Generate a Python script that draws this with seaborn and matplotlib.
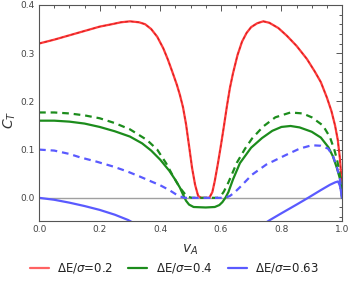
import numpy as np
import pandas as pd
import seaborn as sns
import matplotlib.pyplot as plt
from matplotlib.lines import Line2D
from matplotlib import ticker

# ΔE/σ = 0.2 (solid and dashed almost coincide)
red_v = [0.0, 0.05, 0.10, 0.15, 0.20, 0.24, 0.27, 0.30, 0.33, 0.35, 0.37, 0.39, 0.41,
         0.425, 0.44, 0.455, 0.465, 0.475, 0.485, 0.495, 0.505, 0.515, 0.525, 0.535,
         0.55, 0.562, 0.572, 0.58, 0.59, 0.60, 0.61, 0.62, 0.63, 0.64, 0.655, 0.67,
         0.685, 0.70, 0.72, 0.74, 0.76, 0.79, 0.818, 0.85, 0.884, 0.91, 0.93, 0.95,
         0.965, 0.977, 0.986, 0.993, 0.998, 1.0]
red_c = [0.320, 0.328, 0.337, 0.346, 0.355, 0.360, 0.364, 0.366, 0.364, 0.360, 0.350, 0.334, 0.310,
         0.287, 0.261, 0.234, 0.213, 0.188, 0.153, 0.108, 0.062, 0.027, 0.004, 0.0,
         0.0, 0.0, 0.012, 0.035, 0.070, 0.108, 0.148, 0.190, 0.228, 0.258, 0.296, 0.324,
         0.342, 0.354, 0.362, 0.366, 0.363, 0.352, 0.336, 0.315, 0.288, 0.262, 0.240, 0.208,
         0.180, 0.150, 0.120, 0.082, 0.040, 0.0]

# ΔE/σ = 0.4
grn_v = [0.0, 0.05, 0.10, 0.15, 0.20, 0.25, 0.30, 0.34, 0.37, 0.40, 0.43, 0.45, 0.465,
         0.475, 0.485, 0.495, 0.51, 0.55, 0.58, 0.595, 0.605, 0.615, 0.625, 0.64, 0.663,
         0.70, 0.736, 0.77, 0.80, 0.83, 0.86, 0.90, 0.93, 0.955, 0.97, 0.983, 0.993,
         0.998, 1.0]
grn_c = [0.160, 0.160, 0.158, 0.154, 0.147, 0.138, 0.127, 0.113, 0.098, 0.079, 0.056, 0.037, 0.021,
         0.007, -0.006, -0.014, -0.019, -0.020, -0.019, -0.015, -0.009, 0.000, 0.012, 0.038, 0.072,
         0.104, 0.124, 0.139, 0.147, 0.149, 0.146, 0.137, 0.125, 0.105, 0.086, 0.062, 0.040,
         0.020, 0.0]
grn_dash_v = [0.0, 0.05, 0.10, 0.15, 0.20, 0.25, 0.30, 0.356, 0.39, 0.42, 0.443, 0.465, 0.48,
              0.492, 0.505, 0.59, 0.60, 0.61, 0.625, 0.64, 0.653, 0.68, 0.703, 0.74, 0.78,
              0.83, 0.87, 0.90, 0.937, 0.96, 0.975, 0.985, 0.995, 1.0]
grn_dash_c = [0.177, 0.177, 0.175, 0.171, 0.165, 0.155, 0.142, 0.120, 0.100, 0.071, 0.044, 0.021, 0.009,
              0.002, 0.0, 0.0, 0.004, 0.013, 0.032, 0.054, 0.073, 0.102, 0.123, 0.148, 0.167,
              0.177, 0.175, 0.167, 0.150, 0.126, 0.099, 0.075, 0.040, 0.0]

# ΔE/σ = 0.63
blu_dash_v = [0.0, 0.05, 0.10, 0.135, 0.19, 0.244, 0.29, 0.333, 0.37, 0.40, 0.43, 0.45, 0.465,
              0.48, 0.615, 0.63, 0.645, 0.663, 0.703, 0.75, 0.812, 0.86, 0.90, 0.93, 0.954,
              0.97, 0.983, 0.993, 1.0]
blu_dash_c = [0.100, 0.098, 0.091, 0.084, 0.075, 0.065, 0.055, 0.044, 0.034, 0.026, 0.016, 0.008, 0.003,
              0.0, 0.0, 0.004, 0.011, 0.022, 0.048, 0.069, 0.088, 0.102, 0.109, 0.108, 0.102,
              0.087, 0.064, 0.040, 0.0]
blu_v1 = [0.0, 0.05, 0.10, 0.15, 0.20, 0.25, 0.294, 0.32]
blu_c1 = [0.0, -0.004, -0.010, -0.017, -0.025, -0.035, -0.046, -0.055]
blu_v2 = [0.74, 0.762, 0.80, 0.85, 0.888, 0.93, 0.96, 0.977, 0.987, 0.993, 0.997, 1.0]
blu_c2 = [-0.055, -0.046, -0.032, -0.014, 0.0, 0.016, 0.027, 0.032, 0.034, 0.025, 0.012, 0.0]

labels = ['ΔE/$\\sigma$=0.2', 'ΔE/$\\sigma$=0.4', 'ΔE/$\\sigma$=0.63']

sns.set_style('white')
plt.rcParams['font.family'] = ['DejaVu Sans']
plt.rcParams['mathtext.fontset'] = 'dejavusans'

fig = plt.figure(figsize=(3.49, 2.9), dpi=100)
ax = fig.add_axes([0.112, 0.238, 0.868, 0.745])

ax.axhline(0, color='#a0a0a0', lw=1.0, zorder=1)

red = '#ff3b3b'
green = '#1c8c1c'
blue = '#5a5aff'

sns.lineplot(x=red_v, y=red_c, ax=ax, color=red, lw=1.6, sort=False)
sns.lineplot(x=red_v, y=red_c, ax=ax, color='#d62020', lw=0.8, sort=False,
             linestyle=(0, (2.5, 2.5)))
sns.lineplot(x=grn_v, y=grn_c, ax=ax, color=green, lw=1.6, sort=False)
sns.lineplot(x=grn_dash_v, y=grn_dash_c, ax=ax, color=green, lw=1.6, sort=False,
             linestyle=(0, (3, 2.2)))
sns.lineplot(x=blu_dash_v, y=blu_dash_c, ax=ax, color=blue, lw=1.6, sort=False,
             linestyle=(0, (3, 2.2)))
sns.lineplot(x=blu_v1, y=blu_c1, ax=ax, color=blue, lw=1.6, sort=False)
sns.lineplot(x=blu_v2, y=blu_c2, ax=ax, color=blue, lw=1.6, sort=False)

ax.set_xlim(0, 1.0)
ax.set_ylim(-0.048, 0.4)
ax.xaxis.set_major_locator(ticker.MultipleLocator(0.2))
ax.xaxis.set_minor_locator(ticker.MultipleLocator(0.05))
ax.yaxis.set_major_locator(ticker.MultipleLocator(0.1))
ax.yaxis.set_minor_locator(ticker.MultipleLocator(0.02))
ax.xaxis.set_major_formatter(ticker.FormatStrFormatter('%.1f'))
ax.yaxis.set_major_formatter(ticker.FormatStrFormatter('%.1f'))
ax.tick_params(which='both', direction='in', top=True, right=True, color='#555555',
               labelsize=6.5, labelcolor='#444444', width=0.7)
ax.tick_params(which='major', length=4, pad=3)
ax.tick_params(which='minor', length=2)
for s in ax.spines.values():
    s.set_color('#555555')
    s.set_linewidth(0.8)

ax.set_xlabel('$v_A$', fontsize=10, color='#333333', labelpad=6)
ax.set_ylabel('$C_T$', fontsize=10, color='#333333')
ax.yaxis.set_label_coords(-0.07, 0.47)

handles = [Line2D([], [], color='#ff6262', lw=1.6),
           Line2D([], [], color=green, lw=1.6),
           Line2D([], [], color=blue, lw=1.6)]
fig.legend(handles, labels, loc='center', bbox_to_anchor=(0.5, 0.075), ncol=3,
           frameon=False, fontsize=8.5, handlelength=1.6, handletextpad=0.7,
           columnspacing=1.3, labelcolor='#222222')

fig.savefig('out.png', dpi=100)
